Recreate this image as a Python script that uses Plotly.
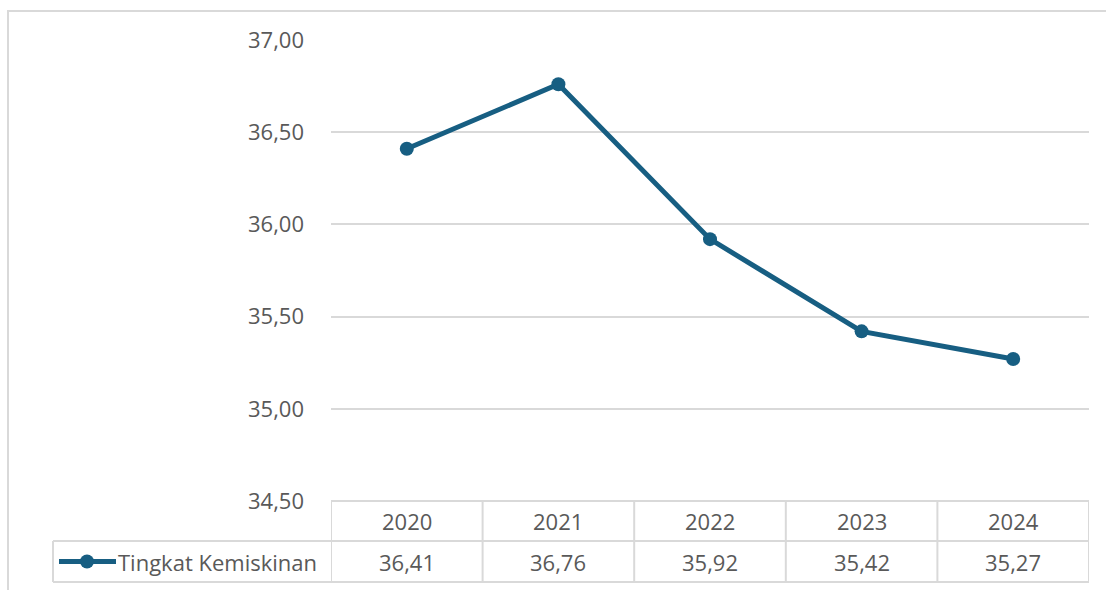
import plotly.graph_objects as go

years = ["2020", "2021", "2022", "2023", "2024"]
values = [36.41, 36.76, 35.92, 35.42, 35.27]
series_name = "Tingkat Kemiskinan"
y_ticks = [34.5, 35.0, 35.5, 36.0, 36.5, 37.0]

W, H = 1106, 590
L, R, T, B = 331, 1089, 40, 501
PW, PH = R - L, B - T
COLOR = "#175e82"
GRID = "#d9d9d9"
TXT = "#595959"
FONT = "Open Sans, Noto Sans, sans-serif"
FS = 22


def px(x):
    return (x - L) / PW


def py(y):
    return (B - y) / PH


fig = go.Figure()
fig.add_trace(go.Scatter(
    x=list(range(len(years))), y=values, mode="lines+markers",
    name=series_name, showlegend=False,
    line=dict(color=COLOR, width=5),
    marker=dict(color=COLOR, size=14),
    hoverinfo="skip",
))

shapes = []
# outer chart border
shapes.append(dict(type="rect", xref="paper", yref="paper",
                   x0=px(8), x1=px(1112), y0=py(600), y1=py(11),
                   line=dict(color=GRID, width=2), layer="below"))
# table horizontal lines
row_top, row_mid, row_bot = 501, 541, 582
for yy, x0 in [(row_top, L), (row_mid, 53), (row_bot, 53)]:
    shapes.append(dict(type="line", xref="paper", yref="paper",
                       x0=px(x0), x1=1, y0=py(yy), y1=py(yy),
                       line=dict(color=GRID, width=2)))
# table vertical lines at category boundaries
for i in range(len(years) + 1):
    shapes.append(dict(type="line", xref="x", yref="paper",
                       x0=i - 0.5, x1=i - 0.5, y0=py(row_bot), y1=py(row_top),
                       line=dict(color=GRID, width=2)))
# legend cell left border
shapes.append(dict(type="line", xref="paper", yref="paper",
                   x0=px(53), x1=px(53), y0=py(row_bot), y1=py(row_mid),
                   line=dict(color=GRID, width=2)))
# legend key
ky = (row_mid + row_bot) / 2
shapes.append(dict(type="line", xref="paper", yref="paper",
                   x0=px(59), x1=px(116), y0=py(ky), y1=py(ky),
                   line=dict(color=COLOR, width=5)))
shapes.append(dict(type="circle", xref="paper", yref="paper",
                   x0=px(80), x1=px(94), y0=py(ky + 7), y1=py(ky - 7),
                   fillcolor=COLOR, line=dict(color=COLOR, width=0)))

annotations = []
for i, (yr, v) in enumerate(zip(years, values)):
    annotations.append(dict(x=i, y=py((row_top + row_mid) / 2), xref="x", yref="paper",
                            text=yr, showarrow=False, yanchor="middle",
                            font=dict(family=FONT, size=FS, color=TXT)))
    annotations.append(dict(x=i, y=py(ky), xref="x", yref="paper",
                            text=f"{v:.2f}".replace(".", ","), showarrow=False,
                            yanchor="middle",
                            font=dict(family=FONT, size=FS, color=TXT)))
annotations.append(dict(x=px(116), y=py(ky), xref="paper", yref="paper",
                        text=series_name, showarrow=False, xanchor="left",
                        yanchor="middle",
                        font=dict(family=FONT, size=FS, color=TXT)))

fig.update_layout(
    width=W, height=H,
    margin=dict(l=L, r=W - R, t=T, b=H - B, pad=0),
    paper_bgcolor="white", plot_bgcolor="white",
    separators=",.",
    font=dict(family=FONT, size=FS, color=TXT),
    xaxis=dict(range=[-0.5, len(years) - 0.5], showticklabels=False,
               showgrid=False, zeroline=False, showline=False, ticks=""),
    yaxis=dict(range=[34.5, 37.0], tickvals=y_ticks, tickformat=".2f",
               showgrid=True, gridcolor=GRID, gridwidth=2,
               zeroline=False, showline=False, ticks="",
               ticklabelstandoff=26,
               tickfont=dict(family=FONT, size=FS, color=TXT)),
    shapes=shapes, annotations=annotations,
)

fig.write_html("out.html",
               config={"displayModeBar": False},
               post_script="document.body.style.margin='0';document.body.style.overflow='hidden';")
